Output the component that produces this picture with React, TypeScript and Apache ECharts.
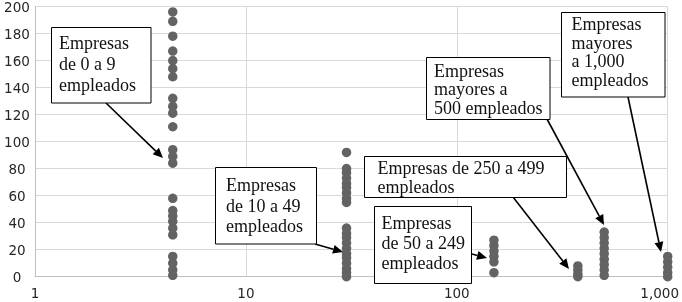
import React, { useEffect, useRef } from "react";
import * as echarts from "echarts";

// Employment size groups (x position on log axis) and their observed values
const groupX = [4.5, 30, 150, 375, 500, 1000];
const group0to9 = [196, 189, 178, 167, 160, 154, 148, 132, 126, 121, 111, 94, 89, 84, 58, 49, 45, 41, 36, 31, 15, 10, 5, 1];
const group10to49 = [92, 80, 77, 73, 69, 66, 62, 58, 55, 36, 32, 29, 25, 21, 17, 14, 10, 6, 3, 0];
const group50to249 = [27, 23, 19, 15, 11, 3];
const group250to499 = [8, 5, 2, 0];
const groupOver500 = [33, 29, 25, 21, 17, 13, 9, 5, 1];
const groupOver1000 = [15, 11, 7, 3, 0];
const groupValues = [group0to9, group10to49, group50to249, group250to499, groupOver500, groupOver1000];

const yTicks = { min: 0, max: 200, interval: 20 };
const xTicks = { min: 1, max: 1000 };

const labels = [
  "Empresas\nde 0 a 9\nempleados",
  "Empresas\nde 10 a 49\nempleados",
  "Empresas\nde 50 a 249\nempleados",
  "Empresas de 250 a 499\nempleados",
  "Empresas\nmayores a\n500 empleados",
  "Empresas\nmayores\na 1,000\nempleados",
];

// layout of annotation boxes: [x, y, w, h, textX, textTop, lineHeight]
const boxes = [
  [51.5, 27.5, 99.5, 75.5, 59, 32.5, 21],
  [215.5, 167.5, 101, 76.5, 226, 174.8, 20.5],
  [374.5, 206.5, 97, 77, 381.5, 213.3, 20],
  [364.5, 156.5, 202, 41, 377.5, 158.8, 18.7],
  [426.5, 57.5, 123.5, 62, 434, 61.2, 18.7],
  [561.5, 12.5, 103.5, 84.5, 571.5, 14.7, 18.7],
];
const arrows = [
  [106, 103, 163, 158],
  [315, 244, 343, 252],
  [472, 254, 487, 258],
  [513, 197, 569, 269],
  [547, 119, 604, 225],
  [628, 97, 661, 252],
];

function arrowEls(x1: number, y1: number, x2: number, y2: number) {
  const a = Math.atan2(y2 - y1, x2 - x1);
  const L = 10, W = 4.5;
  const bx = x2 - L * Math.cos(a), by = y2 - L * Math.sin(a);
  return [
    { type: "line", z: 10, shape: { x1, y1, x2: bx, y2: by }, style: { stroke: "#000", lineWidth: 1.6 } },
    {
      type: "polygon", z: 10,
      shape: { points: [[x2, y2], [bx - W * Math.sin(a), by + W * Math.cos(a)], [bx + W * Math.sin(a), by - W * Math.cos(a)]] },
      style: { fill: "#000" },
    },
  ];
}

export default function App() {
  const ref = useRef<HTMLDivElement>(null);
  useEffect(() => {
    if (!ref.current) return;
    const chart = echarts.init(ref.current, null, { renderer: "svg" });
    const axisFont = { fontFamily: "DejaVu Sans", fontSize: 13.5, color: "#262626" };
    const graphic: any[] = [];
    boxes.forEach((b, i) => {
      graphic.push({ type: "rect", z: 11, shape: { x: b[0], y: b[1], width: b[2], height: b[3] }, style: { fill: "#fff", stroke: "#000", lineWidth: 1 } });
      graphic.push({
        type: "text", z: 12, x: b[4], y: b[5],
        style: {
          text: labels[i], fontFamily: "Liberation Serif", fontSize: 18, fill: "#111",
          lineHeight: b[6], verticalAlign: "top", align: "left",
        },
      });
    });
    arrows.forEach((a) => graphic.push(...arrowEls(a[0], a[1], a[2], a[3])));

    chart.setOption({
      animation: false,
      grid: { left: 35, right: 14.3, top: 6.5, bottom: 25.3, containLabel: false, outerBoundsMode: "none" },
      xAxis: {
        type: "log", logBase: 10, min: xTicks.min, max: xTicks.max,
        axisLine: { show: true, lineStyle: { color: "#bfbfbf" } },
        axisTick: { show: false },
        splitLine: { show: true, lineStyle: { color: "#d9d9d9" } },
        axisLabel: {
          ...axisFont, margin: 9, showMaxLabel: true,
          formatter: (v: number) => {
            const r = Math.round(v);
            return r === 1000 ? "{a|1,000}" : String(r);
          },
          rich: { a: { ...axisFont, padding: [0, 16, 0, 0] } },
        },
      },
      yAxis: {
        type: "value", min: yTicks.min, max: yTicks.max, interval: yTicks.interval,
        axisLine: { show: true, lineStyle: { color: "#bfbfbf" } },
        axisTick: { show: false },
        splitLine: { show: true, lineStyle: { color: "#d9d9d9" } },
        axisLabel: { ...axisFont, align: "center", margin: 18 },
      },
      series: groupValues.map((vals, gi) => ({
        type: "scatter",
        symbol: "circle",
        symbolSize: 9.5,
        clip: false,
        itemStyle: { color: "#636363", opacity: 1 },
        data: vals.map((v) => [groupX[gi], v]),
      })),
      graphic,
    });
    return () => chart.dispose();
  }, []);
  return <div ref={ref} style={{ position: "fixed", left: 0, top: 0, width: 682, height: 302 }} />;
}
